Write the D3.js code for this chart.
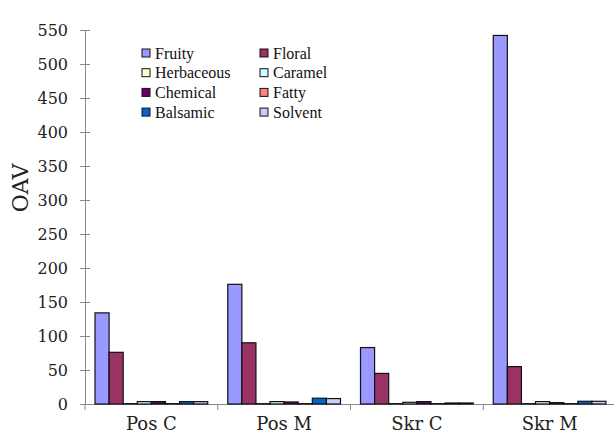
<!DOCTYPE html>
<html>
<head>
<meta charset="utf-8">
<script src="https://cdn.jsdelivr.net/npm/d3@7"></script>
<style>
  body { margin: 0; background: #fff; }
</style>
</head>
<body>
<div id="container"></div>
<script>
// data
let groups = ["Pos C", "Pos M", "Skr C", "Skr M"];
let aromas = ["Fruity", "Floral", "Herbaceous", "Caramel", "Chemical", "Fatty", "Balsamic", "Solvent"];
let colors = ["#9999FF", "#993366", "#FFFFCC", "#CCFFFF", "#660066", "#FF8080", "#0066CC", "#CCCCFF"];
let posC = [134, 76, 0.5, 3.5, 3.5, 0.5, 3.5, 3.5];
let posM = [176, 90, 0.5, 3.5, 3, 0.5, 8.5, 8];
let skrC = [83, 45, 0.5, 2.5, 3.5, 0.5, 1.5, 1.5];
let skrM = [542, 55, 0.5, 3.5, 2, 0.5, 4, 4];
let yTicks = [0, 50, 100, 150, 200, 250, 300, 350, 400, 450, 500, 550];

let values = [posC, posM, skrC, skrM];

let serif = "'DejaVu Serif', serif";
let times = "'Liberation Serif', 'Times New Roman', Times, serif";

//画布
let width = 614, height = 435;
let svg = d3.select("#container")
    .append("svg")
    .attr("width", width)
    .attr("height", height);

let mLeft = 85, mRight = 616, mTop = 30, mBottom = 404;

//比例尺
let x0 = d3.scaleBand().domain(groups).range([mLeft, mRight]).paddingInner(0).paddingOuter(0);
let x1 = d3.scaleBand().domain(aromas).range([10, x0.bandwidth() - 10]);
let y = d3.scaleLinear().domain([0, 550]).range([mBottom, mTop]);

//坐标轴
let yg = svg.append("g")
    .attr("transform", "translate(" + mLeft + ",0)")
    .call(d3.axisLeft(y).tickValues(yTicks).tickSize(5).tickPadding(12));
yg.selectAll(".tick line").attr("x2", 5).attr("x1", -5);

let xg = svg.append("g")
    .attr("transform", "translate(0," + mBottom + ")")
    .call(d3.axisBottom(x0).tickSize(0).tickPadding(10));

// ticks between groups
svg.selectAll(".gtick")
    .data(d3.range(groups.length + 1))
    .enter()
    .append("line")
    .attr("x1", i => mLeft + i * x0.bandwidth())
    .attr("x2", i => mLeft + i * x0.bandwidth())
    .attr("y1", mBottom)
    .attr("y2", mBottom + 6)
    .attr("stroke", "#888");

svg.selectAll(".domain").attr("stroke", "#888");
yg.selectAll(".tick line").attr("stroke", "#888");
yg.attr("font-family", null);
xg.attr("font-family", null);
yg.selectAll("text").style("font-family", serif).style("font-size", "16px").attr("fill", "#222");
xg.selectAll("text").style("font-family", serif).style("font-size", "18px").attr("fill", "#222")
    .attr("dy", "0.9em");

// y label
svg.append("text")
    .attr("transform", "translate(28,188) rotate(-90)")
    .attr("text-anchor", "middle")
    .style("font-family", serif)
    .style("font-size", "22px")
    .attr("fill", "#222")
    .text("OAV");

//柱子
let gs = svg.selectAll(".grp")
    .data(values)
    .enter()
    .append("g")
    .attr("transform", (d, i) => "translate(" + x0(groups[i]) + ",0)");

gs.selectAll("rect")
    .data(d => d)
    .enter()
    .append("rect")
    .attr("x", (d, j) => x1(aromas[j]))
    .attr("width", x1.bandwidth())
    .attr("y", d => y(d))
    .attr("height", d => mBottom - y(d))
    .attr("fill", (d, j) => colors[j])
    .attr("stroke", "#111")
    .attr("stroke-width", 1.2);

// legend
let lg = svg.append("g");
let items = lg.selectAll("g")
    .data(aromas)
    .enter()
    .append("g")
    .attr("transform", (d, i) => "translate(" + (i % 2 === 0 ? 142 : 260) + "," + (53 + Math.floor(i / 2) * 19.7) + ")");
items.append("rect")
    .attr("x", 0).attr("y", -4)
    .attr("width", 8).attr("height", 8)
    .attr("fill", (d, i) => colors[i])
    .attr("stroke", "#111");
items.append("text")
    .attr("x", 13)
    .attr("y", 5.5)
    .style("font-family", times)
    .style("font-size", "16px")
    .attr("fill", "#111")
    .text(d => d);
</script>
</body>
</html>
